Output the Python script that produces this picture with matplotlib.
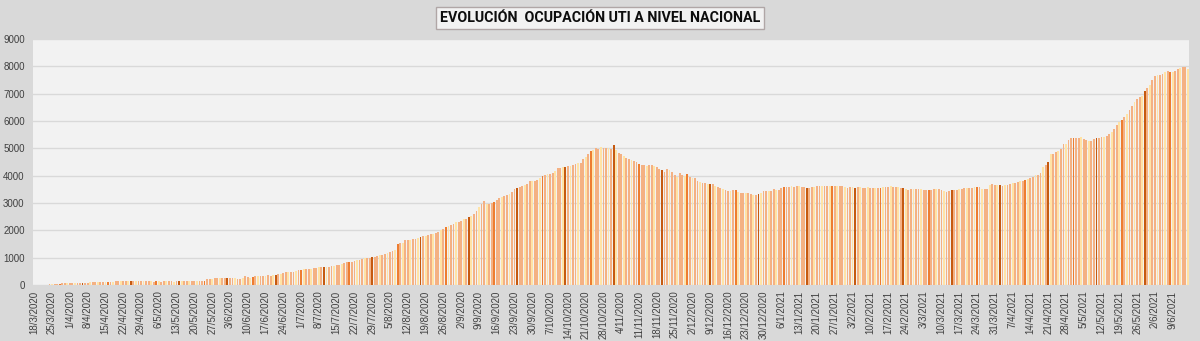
import datetime as dt

import matplotlib
matplotlib.use("Agg")
import matplotlib.pyplot as plt
import numpy as np

START = dt.date(2020, 3, 18)
TITLE = "EVOLUCIÓN  OCUPACIÓN UTI A NIVEL NACIONAL"

# ocupación diaria, una fila por semana (desde 18/3/2020)
WEEKS = [
    [0, 0, 0, 0, 0, 0, 30],
    [40, 45, 50, 55, 60, 62, 65],
    [70, 72, 75, 78, 80, 82, 85],
    [90, 95, 100, 100, 98, 100, 105],
    [110, 115, 120, 125, 130, 135, 135],
    [140, 145, 150, 150, 155, 150, 150],
    [145, 140, 135, 130, 130, 125, 130],
    [130, 125, 130, 140, 135, 130, 125],
    [130, 140, 150, 150, 145, 150, 155],
    [150, 145, 150, 155, 150, 220, 230],
    [235, 240, 245, 250, 260, 270, 270],
    [265, 260, 240, 235, 235, 240, 320],
    [290, 270, 275, 330, 345, 345, 340],
    [345, 350, 345, 350, 360, 390, 420],
    [440, 460, 480, 480, 490, 500, 540],
    [560, 580, 580, 590, 600, 620, 640],
    [650, 660, 670, 670, 670, 690, 710],
    [720, 740, 760, 790, 830, 850, 860],
    [875, 900, 930, 950, 970, 990, 1000],
    [1020, 1040, 1060, 1080, 1110, 1135, 1160],
    [1200, 1240, 1280, 1490, 1520, 1555, 1630],
    [1640, 1660, 1680, 1700, 1720, 1760, 1780],
    [1800, 1830, 1850, 1880, 1900, 1940, 2000],
    [2060, 2110, 2160, 2210, 2250, 2290, 2320],
    [2360, 2400, 2430, 2480, 2520, 2600, 2700],
    [2860, 2980, 3070, 2950, 2950, 3000, 3040],
    [3120, 3200, 3230, 3260, 3280, 3340, 3410],
    [3500, 3560, 3590, 3610, 3650, 3700, 3790],
    [3800, 3820, 3840, 3920, 4000, 4020, 4050],
    [4050, 4100, 4180, 4270, 4290, 4310, 4330],
    [4350, 4370, 4400, 4420, 4450, 4470, 4620],
    [4700, 4800, 4890, 4950, 5020, 4980, 5050],
    [5030, 5000, 5010, 4990, 5130, 4930, 4830],
    [4780, 4710, 4650, 4620, 4590, 4550, 4500],
    [4410, 4390, 4380, 4370, 4380, 4390, 4350],
    [4320, 4260, 4200, 4150, 4240, 4190, 4150],
    [4010, 3950, 4100, 4020, 3980, 4050, 3960],
    [3930, 3910, 3820, 3770, 3730, 3740, 3700],
    [3690, 3680, 3610, 3570, 3540, 3500, 3480],
    [3440, 3440, 3460, 3460, 3390, 3380, 3370],
    [3360, 3350, 3340, 3280, 3310, 3330, 3350],
    [3430, 3430, 3440, 3430, 3510, 3460, 3490],
    [3560, 3590, 3590, 3600, 3620, 3600, 3610],
    [3630, 3600, 3570, 3560, 3560, 3580, 3600],
    [3630, 3630, 3620, 3630, 3630, 3610, 3630],
    [3620, 3630, 3630, 3630, 3590, 3560, 3570],
    [3570, 3560, 3570, 3570, 3540, 3540, 3590],
    [3560, 3540, 3540, 3550, 3540, 3590, 3600],
    [3600, 3610, 3600, 3600, 3590, 3560, 3540],
    [3510, 3480, 3500, 3520, 3520, 3520, 3510],
    [3490, 3480, 3480, 3490, 3500, 3520, 3500],
    [3460, 3430, 3410, 3450, 3480, 3480, 3490],
    [3510, 3530, 3560, 3560, 3550, 3560, 3590],
    [3590, 3570, 3510, 3510, 3510, 3650, 3700],
    [3660, 3650, 3650, 3640, 3650, 3660, 3710],
    [3730, 3750, 3770, 3800, 3820, 3850, 3880],
    [3900, 3960, 4010, 4010, 4100, 4300, 4390],
    [4500, 4800, 4800, 4850, 4890, 4990, 5150],
    [5170, 5300, 5380, 5370, 5370, 5390, 5400],
    [5340, 5310, 5280, 5280, 5330, 5380, 5380],
    [5400, 5430, 5460, 5520, 5600, 5710, 5870],
    [5950, 6020, 6150, 6260, 6390, 6560, 6700],
    [6820, 6880, 6930, 7100, 7210, 7330, 7490],
    [7630, 7680, 7700, 7720, 7790, 7830, 7790],
    [7800, 7840, 7910, 7930, 7960, 7990, 7900],
]

values = [v for w in WEEKS for v in w]
dates = [START + dt.timedelta(days=i) for i in range(len(values))]
labels = [f"{d.day}/{d.month}/{d.year}" for d in dates]

# tonos tipo Excel (el original muestra barras con tonos que varían)
def bar_color(i):
    if i % 19 == 0:
        return "#C55A11"
    if i % 19 == 10:
        return "#ED7D31"
    if i % 3 == 1:
        return "#FFE3A6"
    return "#F4B183"

colors = [bar_color(i) for i in range(len(values))]

plt.rcParams["font.family"] = ["Liberation Sans", "DejaVu Sans"]
fig = plt.figure(figsize=(12, 3.41), dpi=100, facecolor="#D9D9D9")
ax = fig.add_axes([0.0275, 0.1642, 0.9635, 0.7214])
ax.set_facecolor("#F2F2F2")

x = np.arange(len(values))
ax.bar(x, values, width=0.72, color=colors, linewidth=0, zorder=2)

ax.set_xlim(-0.5, len(values) - 0.5)
ax.set_ylim(0, 9000)
ax.set_yticks(range(0, 9001, 1000))
ax.yaxis.grid(True, color="#D9D9D9", linewidth=1, zorder=0)
ax.set_xticks(x[::7])
ax.set_xticklabels(labels[::7], rotation=90, fontsize=7, color="#404040")
ax.tick_params(axis="y", labelsize=7, colors="#404040", length=0, pad=6)
ax.tick_params(axis="x", length=0, pad=4)
for s in ax.spines.values():
    s.set_visible(False)

fig.text(0.5, 0.947, TITLE, ha="center", va="center", fontsize=10.3,
         fontweight="bold", color="#0D0D0D", family=["Roboto", "DejaVu Sans"],
         bbox=dict(boxstyle="square,pad=0.3", facecolor="#F2F2F2",
                   edgecolor="#B0A6A6", linewidth=1))

fig.savefig("out.png", dpi=100, facecolor=fig.get_facecolor())
